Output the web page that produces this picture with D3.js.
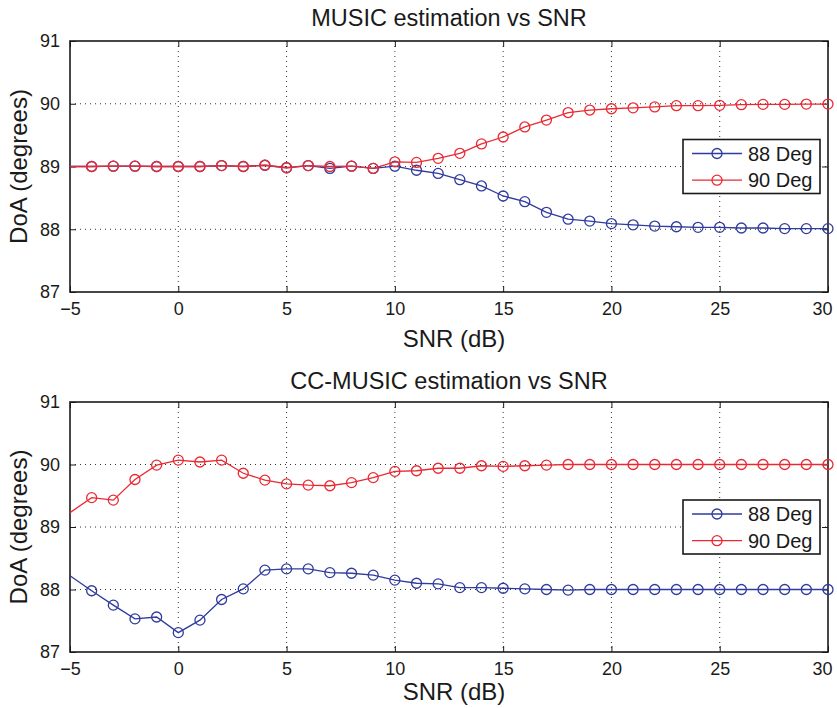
<!DOCTYPE html>
<html>
<head>
<meta charset="utf-8">
<script src="https://cdn.jsdelivr.net/npm/d3@7"></script>
<style>
    body { margin: 0; background: #fff; }
    svg text { font-family: "Liberation Sans", Arial, Helvetica, sans-serif; fill: #1a1a1a; }
</style>
</head>
<body>
<div id="chart"></div>
<script>
// SNR values (dB), -5 is only where the line enters the axes
const snr = [-5, -4, -3, -2, -1, 0, 1, 2, 3, 4, 5, 6, 7, 8, 9, 10, 11, 12,
    13, 14, 15, 16, 17, 18, 19, 20, 21, 22, 23, 24, 25, 26, 27, 28, 29, 30];

// MUSIC estimates
const music88 = [89.0, 89.0, 89.005, 89.005, 89.0, 89.0, 89.0, 89.015, 89.0, 89.02, 88.98, 89.015,
    88.97, 89.005, 88.97, 89.005, 88.94, 88.89, 88.79, 88.69, 88.53, 88.44, 88.27, 88.16,
    88.13, 88.09, 88.07, 88.05, 88.04, 88.03, 88.03, 88.02, 88.02, 88.01, 88.01, 88.01];
const music90 = [89.0, 89.0, 89.005, 89.005, 89.0, 89.0, 89.0, 89.015, 89.0, 89.02, 88.98, 89.015,
    89.0, 89.005, 88.97, 89.075, 89.065, 89.13, 89.21, 89.36, 89.47, 89.63, 89.74, 89.86,
    89.90, 89.92, 89.935, 89.95, 89.97, 89.97, 89.975, 89.985, 89.99, 89.99, 89.995, 89.995];

// CC-MUSIC estimates
const cc88 = [88.22, 87.98, 87.75, 87.53, 87.56, 87.31, 87.51, 87.84, 88.01, 88.31, 88.33, 88.33,
    88.27, 88.26, 88.23, 88.15, 88.10, 88.09, 88.03, 88.03, 88.02, 88.01, 88.0, 87.99,
    88.0, 88.0, 88.0, 88.0, 88.0, 88.0, 88.0, 88.0, 88.0, 88.0, 88.0, 88.0];
const cc90 = [89.23, 89.47, 89.43, 89.76, 89.99, 90.07, 90.04, 90.07, 89.86, 89.75, 89.69, 89.67,
    89.66, 89.71, 89.79, 89.89, 89.90, 89.94, 89.94, 89.98, 89.97, 89.98, 89.99, 90.0,
    90.0, 90.0, 90.0, 90.0, 90.0, 90.0, 90.0, 90.0, 90.0, 90.0, 90.0, 90.0];

const xTicks = [-5, 0, 5, 10, 15, 20, 25, 30];
const yTicks = [87, 88, 89, 90, 91];
const seriesNames = ["88 Deg", "90 Deg"];
const seriesColors = ["#2f3b9e", "#ea2a33"];

const width = 837, height = 708;
const svg = d3.select("#chart").append("svg")
    .attr("width", width)
    .attr("height", height);

const xScale = d3.scaleLinear().domain([-5, 30]).range([70, 828]);

// Draw one subplot
function drawPanel(top, bottom, title, titleY, xlabelY, series, clipId) {
    const yScale = d3.scaleLinear().domain([87, 91]).range([bottom, top]);
    const g = svg.append("g");

    svg.append("clipPath").attr("id", clipId)
        .append("rect")
        .attr("x", xScale.range()[0]).attr("y", top)
        .attr("width", xScale.range()[1] - xScale.range()[0])
        .attr("height", bottom - top);

    // Dotted grid
    g.append("g").selectAll("line")
        .data(xTicks.slice(1, -1))
        .join("line")
        .attr("x1", d => xScale(d)).attr("x2", d => xScale(d))
        .attr("y1", top).attr("y2", bottom)
        .attr("stroke", "#333").attr("stroke-width", 1)
        .attr("stroke-dasharray", "1,4");
    g.append("g").selectAll("line")
        .data(yTicks.slice(1, -1))
        .join("line")
        .attr("y1", d => yScale(d)).attr("y2", d => yScale(d))
        .attr("x1", xScale.range()[0]).attr("x2", xScale.range()[1])
        .attr("stroke", "#333").attr("stroke-width", 1)
        .attr("stroke-dasharray", "1,4");

    // Axes (ticks pointing inward, MATLAB style)
    const xAxis = d3.axisBottom(xScale).tickValues(xTicks).tickSize(-6).tickPadding(10)
        .tickFormat(d => d < 0 ? "\u2212" + Math.abs(d) : d);
    g.append("g")
        .attr("transform", `translate(0, ${bottom})`)
        .call(xAxis)
        .call(a => a.select(".domain").remove())
        .call(a => a.selectAll("text").attr("font-size", 18).attr("fill", "#1a1a1a"))
        // keep the last label inside the window
        .call(a => a.selectAll(".tick text").filter(d => d === 30)
            .attr("text-anchor", "end").attr("x", 4));
    g.append("g")
        .attr("transform", `translate(0, ${top})`)
        .call(d3.axisTop(xScale).tickValues(xTicks).tickSize(-6).tickFormat(""))
        .call(a => a.select(".domain").remove());

    const yAxis = d3.axisLeft(yScale).tickValues(yTicks).tickSize(-6).tickPadding(10)
        .tickFormat(d3.format("d"));
    g.append("g")
        .attr("transform", `translate(${xScale.range()[0]}, 0)`)
        .call(yAxis)
        .call(a => a.select(".domain").remove())
        .call(a => a.selectAll("text").attr("font-size", 18).attr("fill", "#1a1a1a"));
    g.append("g")
        .attr("transform", `translate(${xScale.range()[1]}, 0)`)
        .call(d3.axisRight(yScale).tickValues(yTicks).tickSize(-6).tickFormat(""))
        .call(a => a.select(".domain").remove());

    g.selectAll(".tick line").attr("stroke", "#1a1a1a");

    // Box
    g.append("rect")
        .attr("x", xScale.range()[0]).attr("y", top)
        .attr("width", xScale.range()[1] - xScale.range()[0])
        .attr("height", bottom - top)
        .attr("fill", "none")
        .attr("stroke", "#1a1a1a").attr("stroke-width", 1.6);

    // Lines and markers
    const line = d3.line()
        .x((d, i) => xScale(snr[i]))
        .y(d => yScale(d));

    series.forEach((values, k) => {
        g.append("path")
            .datum(values)
            .attr("clip-path", `url(#${clipId})`)
            .attr("d", line)
            .attr("fill", "none")
            .attr("stroke", seriesColors[k])
            .attr("stroke-width", 1.3);

        g.append("g").selectAll("circle")
            .data(values.map((v, i) => ({ x: snr[i], y: v })).filter(d => d.x > -5))
            .join("circle")
            .attr("cx", d => xScale(d.x))
            .attr("cy", d => yScale(d.y))
            .attr("r", 5)
            .attr("fill", "none")
            .attr("stroke", seriesColors[k])
            .attr("stroke-width", 1.3);
    });

    // Title and labels
    svg.append("text")
        .attr("x", 449).attr("y", titleY)
        .attr("text-anchor", "middle")
        .attr("font-size", 23.5)
        .text(title);

    svg.append("text")
        .attr("transform", `translate(27, ${(top + bottom) / 2}) rotate(-90)`)
        .attr("text-anchor", "middle")
        .attr("font-size", 24)
        .text("DoA (degrees)");

    svg.append("text")
        .attr("x", 454).attr("y", xlabelY)
        .attr("text-anchor", "middle")
        .attr("font-size", 24)
        .text("SNR (dB)");

    // Legend
    const legendY = yScale(89) - 13;
    const legend = svg.append("g").attr("transform", `translate(683, ${legendY - 14})`);
    legend.append("rect")
        .attr("width", 137).attr("height", 54)
        .attr("fill", "#fff")
        .attr("stroke", "#1a1a1a").attr("stroke-width", 1.6);
    seriesNames.forEach((name, k) => {
        const ly = 14 + k * 26.7;
        legend.append("line")
            .attr("x1", 9).attr("x2", 59).attr("y1", ly).attr("y2", ly)
            .attr("stroke", seriesColors[k]).attr("stroke-width", 1.3);
        legend.append("circle")
            .attr("cx", 34).attr("cy", ly).attr("r", 5)
            .attr("fill", "none")
            .attr("stroke", seriesColors[k]).attr("stroke-width", 1.3);
        legend.append("text")
            .attr("x", 65).attr("y", ly)
            .attr("dy", "0.35em")
            .attr("font-size", 20)
            .text(name);
    });
}

drawPanel(41, 292, "MUSIC estimation vs SNR", 26, 347, [music88, music90], "clipTop");
drawPanel(402, 652, "CC-MUSIC estimation vs SNR", 389, 700, [cc88, cc90], "clipBottom");
</script>
</body>
</html>
